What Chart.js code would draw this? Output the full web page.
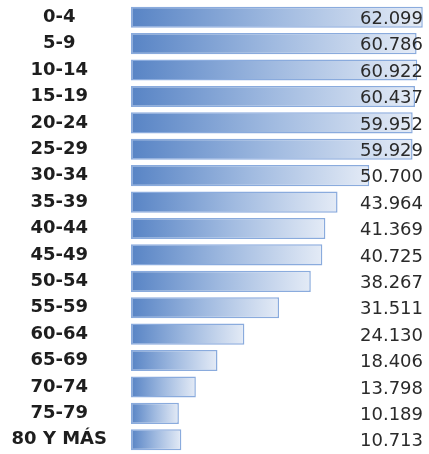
<!DOCTYPE html>
<html>
<head>
<meta charset="utf-8">
<script src="https://cdn.jsdelivr.net/npm/chart.js@4/dist/chart.umd.min.js"></script>
<style>
  html, body { margin: 0; padding: 0; background: #fff; }
  #wrap { width: 429px; height: 454px; position: relative; }
</style>
</head>
<body>
<div id="wrap"><canvas id="chart"></canvas></div>
<script>
// grupos de edad and population per group
const groups = ["0-4", "5-9", "10-14", "15-19", "20-24", "25-29", "30-34", "35-39",
  "40-44", "45-49", "50-54", "55-59", "60-64", "65-69", "70-74", "75-79", "80 Y MÁS"];
const population = [62099, 60786, 60922, 60437, 59952, 59929, 50700, 43964,
  41369, 40725, 38267, 31511, 24130, 18406, 13798, 10189, 10713];

function fmt(v) {
  return String(v).replace(/\B(?=(\d{3})+(?!\d))/g, ".");
}

// gradient from the bar's own start to its end
function barGradient(ctx) {
  const chart = ctx.chart;
  if (!chart.chartArea || ctx.raw == null) return "#6a90c9";
  const xs = chart.scales.x;
  const x0 = xs.getPixelForValue(0);
  const x1 = xs.getPixelForValue(ctx.raw);
  const g = chart.ctx.createLinearGradient(x0, 0, x1, 0);
  g.addColorStop(0, "#5884c5");
  g.addColorStop(0.5, "#a0bae0");
  g.addColorStop(1, "#e4ebf6");
  return g;
}

const valueLabels = {
  id: "valueLabels",
  afterDatasetsDraw(chart) {
    const { ctx, chartArea } = chart;
    const ys = chart.scales.y;
    ctx.save();
    ctx.font = "18px 'DejaVu Sans'";
    ctx.fillStyle = "#2a2a2a";
    ctx.textAlign = "right";
    ctx.textBaseline = "middle";
    population.forEach((v, i) => {
      ctx.fillText(fmt(v), chartArea.right - 4, ys.getPixelForValue(i) + 2);
    });
    ctx.restore();
  }
};

new Chart(document.getElementById("chart"), {
  type: "bar",
  data: {
    labels: groups,
    datasets: [{
      data: population,
      backgroundColor: barGradient,
      borderColor: "#8aabdd",
      borderWidth: 1.5,
      borderSkipped: false,
      categoryPercentage: 1,
      barPercentage: 0.8
    }]
  },
  options: {
    indexAxis: "y",
    responsive: true,
    maintainAspectRatio: false,
    animation: false,
    layout: { padding: { left: 0, right: 2, top: 4, bottom: 1 } },
    scales: {
      x: {
        min: 0,
        max: 63000,
        display: false
      },
      y: {
        afterFit(scale) {
          scale.width = 131;
          scale.paddingTop = 0;
          scale.paddingBottom = 0;
        },
        border: { display: false },
        grid: { display: false, drawTicks: false },
        ticks: {
          crossAlign: "center",
          padding: 24,
          color: "#1e1e1e",
          font: { family: "'DejaVu Sans'", size: 18, weight: "bold" }
        }
      }
    },
    plugins: {
      legend: { display: false },
      tooltip: { enabled: false }
    }
  },
  plugins: [valueLabels]
});
</script>
</body>
</html>
